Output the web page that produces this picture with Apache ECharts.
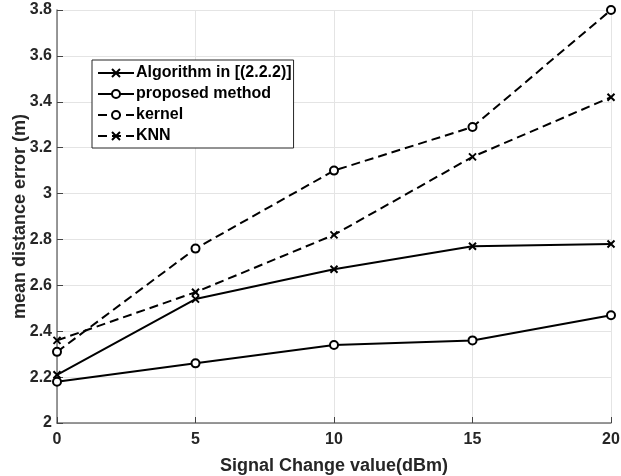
<!DOCTYPE html>
<html>
<head>
<meta charset="utf-8">
<script src="https://cdn.jsdelivr.net/npm/echarts@6/dist/echarts.min.js"></script>
<style>
html,body{margin:0;padding:0;background:#fff;}
#chart{width:621px;height:476px;}
</style>
</head>
<body>
<div id="chart"></div>
<script>
// Signal change steps (dBm) along the x axis
var signalChange = [0, 5, 10, 15, 20];

// Mean distance error (m) for each method
var algorithmRef = [2.21, 2.54, 2.67, 2.77, 2.78];
var proposed = [2.18, 2.26, 2.34, 2.36, 2.47];
var kernel = [2.31, 2.76, 3.10, 3.29, 3.80];
var knn = [2.36, 2.57, 2.82, 3.16, 3.42];

var seriesNames = ['Algorithm in [(2.2.2)]', 'proposed method', 'kernel', 'KNN'];

var crossPath = 'path://M0,0L10,10M10,0L0,10';
var FONT = 'Liberation Sans';

function pairs(vals) {
  return signalChange.map(function (x, i) { return [x, vals[i]]; });
}

function makeSeries(name, vals, symbol, dashed) {
  return {
    name: name,
    type: 'line',
    data: pairs(vals),
    symbol: symbol,
    symbolSize: symbol === 'emptyCircle' ? 8 : 7,
    showSymbol: true,
    animation: false,
    lineStyle: { color: '#000', width: 2, type: dashed ? [9, 5] : 'solid' },
    itemStyle: { color: '#000', borderColor: '#000', borderWidth: 2 }
  };
}

var chart = echarts.init(document.getElementById('chart'), null, { renderer: 'canvas' });
chart.setOption({
  backgroundColor: '#fff',
  animation: false,
  grid: { left: 57, right: 10, top: 10, bottom: 53, containLabel: false, outerBoundsMode: 'none' },
  legend: {
    left: 92,
    top: 60,
    orient: 'vertical',
    data: seriesNames,
    itemWidth: 36,
    itemHeight: 10,
    itemGap: 5,
    padding: [5, 2, 4, 5],
    backgroundColor: '#fff',
    borderColor: '#262626',
    borderWidth: 1,
    borderRadius: 0,
    textStyle: { fontFamily: FONT, fontWeight: 'bold', fontSize: 16, color: '#000', padding: [0, 0, 0, -3] }
  },
  xAxis: {
    type: 'value',
    min: 0,
    max: 20,
    interval: 5,
    name: 'Signal Change value(dBm)',
    nameLocation: 'middle',
    nameGap: 34,
    nameMoveOverlap: false,
    nameTextStyle: { fontFamily: FONT, fontWeight: 'bold', fontSize: 18, color: '#262626' },
    axisLine: { show: true, lineStyle: { color: '#777', width: 1.5 } },
    axisTick: { show: true, inside: true, length: 6, lineStyle: { color: '#444' } },
    axisLabel: { fontFamily: FONT, fontWeight: 'bold', fontSize: 16, color: '#262626', margin: 9 },
    splitLine: { show: true, lineStyle: { color: '#e4e4e4', width: 1 } }
  },
  yAxis: {
    type: 'value',
    min: 2,
    max: 3.8,
    interval: 0.2,
    name: 'mean distance error (m)',
    nameLocation: 'middle',
    nameGap: 28,
    nameMoveOverlap: false,
    nameTextStyle: { fontFamily: FONT, fontWeight: 'bold', fontSize: 18, color: '#262626' },
    axisLine: { show: true, lineStyle: { color: '#777', width: 1.5 } },
    axisTick: { show: true, inside: true, length: 6, lineStyle: { color: '#444' } },
    axisLabel: {
      fontFamily: FONT, fontWeight: 'bold', fontSize: 16, color: '#262626', margin: 5,
      formatter: function (v) { return String(Math.round(v * 10) / 10); }
    },
    splitLine: { show: true, lineStyle: { color: '#e4e4e4', width: 1 } }
  },
  series: [
    makeSeries(seriesNames[0], algorithmRef, crossPath, false),
    makeSeries(seriesNames[1], proposed, 'emptyCircle', false),
    makeSeries(seriesNames[2], kernel, 'emptyCircle', true),
    makeSeries(seriesNames[3], knn, crossPath, true)
  ]
});
</script>
</body>
</html>
